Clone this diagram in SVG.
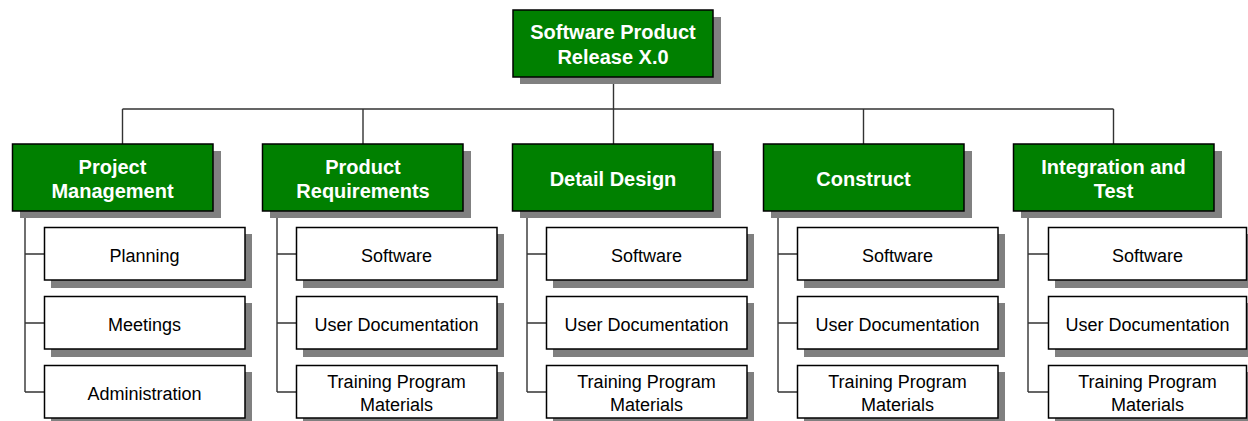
<svg xmlns="http://www.w3.org/2000/svg" width="1248" height="421" viewBox="0 0 1248 421">
  <style>
    .shadow { fill: #808080; }
    .green { fill: #008000; stroke: #000; stroke-width: 1.5; }
    .white { fill: #fff; stroke: #000; stroke-width: 1.5; }
    .hd { font-family: "Liberation Sans", Arial, sans-serif; font-weight: bold; font-size: 20px; fill: #fff; text-anchor: middle; }
    .tx { font-family: "Liberation Sans", Arial, sans-serif; font-size: 18px; fill: #000; text-anchor: middle; }
    .wire { fill: none; stroke: #333; stroke-width: 1.4; }
  </style>
  <rect width="1248" height="421" fill="#fff"/>

  <!-- connectors -->
  <g id="connectors" class="wire">
    <path d="M613.5 77 V109 M122.5 109 H1113.5"/>
    <path d="M122.5 109 V144 M363 109 V144 M613.5 109 V144 M863.5 109 V144 M1113.5 109 V144"/>
    <path d="M25 211 V392 M25 254 H44 M25 323 H44 M25 392 H44"/>
    <path d="M277 211 V392 M277 254 H296 M277 323 H296 M277 392 H296"/>
    <path d="M527 211 V392 M527 254 H546 M527 323 H546 M527 392 H546"/>
    <path d="M778 211 V392 M778 254 H797 M778 323 H797 M778 392 H797"/>
    <path d="M1028 211 V392 M1028 254 H1048 M1028 323 H1048 M1028 392 H1048"/>
  </g>

  <!-- root -->
  <g id="root">
    <rect class="shadow" x="520" y="17" width="201" height="67"/>
    <rect class="green" x="513" y="10" width="200" height="67"/>
    <text class="hd" x="613" y="39">Software Product</text>
    <text class="hd" x="613" y="64">Release X.0</text>
  </g>

  <!-- level 2 -->
  <g id="project-management">
    <rect class="shadow" x="20" y="151" width="201" height="67"/>
    <rect class="green" x="12.5" y="144" width="200.5" height="67"/>
    <text class="hd" x="112.5" y="174">Project</text>
    <text class="hd" x="112.5" y="198">Management</text>
  </g>
  <g id="product-requirements">
    <rect class="shadow" x="270" y="151" width="201" height="67"/>
    <rect class="green" x="262.5" y="144" width="200.5" height="67"/>
    <text class="hd" x="363" y="174">Product</text>
    <text class="hd" x="363" y="198">Requirements</text>
  </g>
  <g id="detail-design">
    <rect class="shadow" x="520" y="151" width="201" height="67"/>
    <rect class="green" x="512.5" y="144" width="200.5" height="67"/>
    <text class="hd" x="613" y="186">Detail Design</text>
  </g>
  <g id="construct">
    <rect class="shadow" x="771" y="151" width="201" height="67"/>
    <rect class="green" x="763.5" y="144" width="200.5" height="67"/>
    <text class="hd" x="863.5" y="186">Construct</text>
  </g>
  <g id="integration-and-test">
    <rect class="shadow" x="1021" y="151" width="201" height="67"/>
    <rect class="green" x="1013.5" y="144" width="200.5" height="67"/>
    <text class="hd" x="1113.5" y="174">Integration and</text>
    <text class="hd" x="1113.5" y="198">Test</text>
  </g>

  <!-- level 3: Project Management -->
  <g id="pm-planning">
    <rect class="shadow" x="51" y="234" width="201" height="54"/>
    <rect class="white" x="44.5" y="227.5" width="200.5" height="52.5"/>
    <text class="tx" x="144.5" y="262">Planning</text>
  </g>
  <g id="pm-meetings">
    <rect class="shadow" x="51" y="303" width="201" height="54"/>
    <rect class="white" x="44.5" y="296.5" width="200.5" height="52.5"/>
    <text class="tx" x="144.5" y="331">Meetings</text>
  </g>
  <g id="pm-administration">
    <rect class="shadow" x="51" y="372" width="201" height="54"/>
    <rect class="white" x="44.5" y="365.5" width="200.5" height="52.5"/>
    <text class="tx" x="144.5" y="400">Administration</text>
  </g>

  <!-- level 3: Product Requirements -->
  <g id="pr-software">
    <rect class="shadow" x="303" y="234" width="201" height="54"/>
    <rect class="white" x="296.5" y="227.5" width="200.5" height="52.5"/>
    <text class="tx" x="396.5" y="262">Software</text>
  </g>
  <g id="pr-user-doc">
    <rect class="shadow" x="303" y="303" width="201" height="54"/>
    <rect class="white" x="296.5" y="296.5" width="200.5" height="52.5"/>
    <text class="tx" x="396.5" y="331">User Documentation</text>
  </g>
  <g id="pr-training">
    <rect class="shadow" x="303" y="372" width="201" height="54"/>
    <rect class="white" x="296.5" y="365.5" width="200.5" height="52.5"/>
    <text class="tx" x="396.5" y="388">Training Program</text>
    <text class="tx" x="396.5" y="411">Materials</text>
  </g>

  <!-- level 3: Detail Design -->
  <g id="dd-software">
    <rect class="shadow" x="553" y="234" width="201" height="54"/>
    <rect class="white" x="546.5" y="227.5" width="200.5" height="52.5"/>
    <text class="tx" x="646.5" y="262">Software</text>
  </g>
  <g id="dd-user-doc">
    <rect class="shadow" x="553" y="303" width="201" height="54"/>
    <rect class="white" x="546.5" y="296.5" width="200.5" height="52.5"/>
    <text class="tx" x="646.5" y="331">User Documentation</text>
  </g>
  <g id="dd-training">
    <rect class="shadow" x="553" y="372" width="201" height="54"/>
    <rect class="white" x="546.5" y="365.5" width="200.5" height="52.5"/>
    <text class="tx" x="646.5" y="388">Training Program</text>
    <text class="tx" x="646.5" y="411">Materials</text>
  </g>

  <!-- level 3: Construct -->
  <g id="co-software">
    <rect class="shadow" x="804" y="234" width="201" height="54"/>
    <rect class="white" x="797.5" y="227.5" width="200.5" height="52.5"/>
    <text class="tx" x="897.5" y="262">Software</text>
  </g>
  <g id="co-user-doc">
    <rect class="shadow" x="804" y="303" width="201" height="54"/>
    <rect class="white" x="797.5" y="296.5" width="200.5" height="52.5"/>
    <text class="tx" x="897.5" y="331">User Documentation</text>
  </g>
  <g id="co-training">
    <rect class="shadow" x="804" y="372" width="201" height="54"/>
    <rect class="white" x="797.5" y="365.5" width="200.5" height="52.5"/>
    <text class="tx" x="897.5" y="388">Training Program</text>
    <text class="tx" x="897.5" y="411">Materials</text>
  </g>

  <!-- level 3: Integration and Test -->
  <g id="it-software">
    <rect class="shadow" x="1055" y="234" width="201" height="54"/>
    <rect class="white" x="1048.5" y="227.5" width="198" height="52.5"/>
    <text class="tx" x="1147.5" y="262">Software</text>
  </g>
  <g id="it-user-doc">
    <rect class="shadow" x="1055" y="303" width="201" height="54"/>
    <rect class="white" x="1048.5" y="296.5" width="198" height="52.5"/>
    <text class="tx" x="1147.5" y="331">User Documentation</text>
  </g>
  <g id="it-training">
    <rect class="shadow" x="1055" y="372" width="201" height="54"/>
    <rect class="white" x="1048.5" y="365.5" width="198" height="52.5"/>
    <text class="tx" x="1147.5" y="388">Training Program</text>
    <text class="tx" x="1147.5" y="411">Materials</text>
  </g>
</svg>
